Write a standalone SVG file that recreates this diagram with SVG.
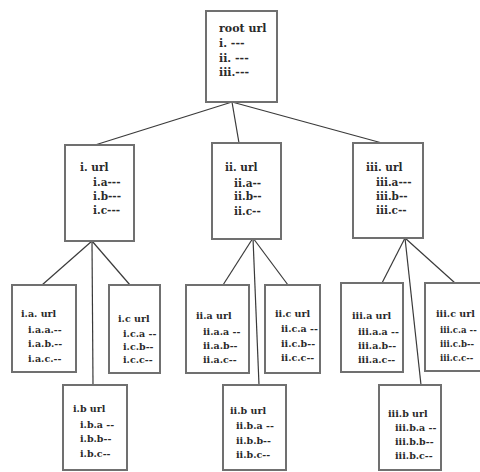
<svg xmlns="http://www.w3.org/2000/svg" width="480" height="472" viewBox="0 0 480 472">
<style>
  .box { fill: #ffffff; stroke: #707070; stroke-width: 2; }
  .t { font-family: "DejaVu Serif", "Liberation Serif", serif; font-weight: bold; fill: #2a2a2a; }
  .r { font-size: 11px; }
  .l2 { font-size: 10.5px; }
  .l3 { font-size: 9.5px; }
  .l3s { font-size: 8.6px; }
  .edge { stroke: #3a3a3a; stroke-width: 1.2; fill: none; }
</style>
<rect width="480" height="472" fill="#ffffff"/>
<g id="connectors">
  <line class="edge" x1="232" y1="102" x2="95" y2="145"/>
  <line class="edge" x1="232" y1="102" x2="239" y2="143"/>
  <line class="edge" x1="232" y1="102" x2="382" y2="143"/>
  <line class="edge" x1="92" y1="241" x2="42" y2="285"/>
  <line class="edge" x1="92" y1="241" x2="93" y2="385"/>
  <line class="edge" x1="92" y1="241" x2="130" y2="285"/>
  <line class="edge" x1="253" y1="238" x2="223" y2="285"/>
  <line class="edge" x1="253" y1="238" x2="259" y2="385"/>
  <line class="edge" x1="253" y1="238" x2="288" y2="285"/>
  <line class="edge" x1="405" y1="238" x2="382" y2="283"/>
  <line class="edge" x1="405" y1="238" x2="421" y2="385"/>
  <line class="edge" x1="405" y1="238" x2="455" y2="283"/>
</g>
<g id="root">
  <rect class="box" x="206" y="11" width="71" height="91"/>
  <text class="t r" x="219" y="32">root url</text>
  <text class="t r" x="219" y="47">i. ---</text>
  <text class="t r" x="219" y="62">ii. ---</text>
  <text class="t r" x="219" y="76">iii.---</text>
</g>
<g id="node-i">
  <rect class="box" x="65" y="145" width="69" height="96"/>
  <text class="t l2" x="80" y="171">i. url</text>
  <text class="t l2" x="93" y="186">i.a---</text>
  <text class="t l2" x="93" y="200">i.b---</text>
  <text class="t l2" x="93" y="214">i.c---</text>
</g>
<g id="node-ii">
  <rect class="box" x="212" y="143" width="69" height="96"/>
  <text class="t l2" x="225" y="171">ii. url</text>
  <text class="t l2" x="234" y="187">ii.a--</text>
  <text class="t l2" x="234" y="200">ii.b--</text>
  <text class="t l2" x="234" y="215">ii.c--</text>
</g>
<g id="node-iii">
  <rect class="box" x="353" y="143" width="70" height="95"/>
  <text class="t l2" x="366" y="171">iii. url</text>
  <text class="t l2" x="376" y="186">iii.a---</text>
  <text class="t l2" x="376" y="200">iii.b--</text>
  <text class="t l2" x="376" y="214">iii.c--</text>
</g>
<g id="node-ia">
  <rect class="box" x="12" y="285" width="64" height="87"/>
  <text class="t l3" x="21" y="317">i.a. url</text>
  <text class="t l3" x="28" y="333">i.a.a.--</text>
  <text class="t l3" x="28" y="347">i.a.b.--</text>
  <text class="t l3" x="28" y="362">i.a.c.--</text>
</g>
<g id="node-ic">
  <rect class="box" x="109" y="285" width="51" height="88"/>
  <text class="t l3" x="118" y="322">i.c url</text>
  <text class="t l3" x="123" y="337">i.c.a --</text>
  <text class="t l3" x="123" y="350">i.c.b--</text>
  <text class="t l3" x="123" y="363">i.c.c--</text>
</g>
<g id="node-ib">
  <rect class="box" x="63" y="385" width="64" height="85"/>
  <text class="t l3" x="73" y="412">i.b url</text>
  <text class="t l3" x="80" y="428">i.b.a --</text>
  <text class="t l3" x="80" y="442">i.b.b--</text>
  <text class="t l3" x="80" y="457">i.b.c--</text>
</g>
<g id="node-iia">
  <rect class="box" x="186" y="285" width="63" height="88"/>
  <text class="t l3" x="196" y="319">ii.a url</text>
  <text class="t l3" x="203" y="335">ii.a.a --</text>
  <text class="t l3" x="203" y="349">ii.a.b--</text>
  <text class="t l3" x="203" y="363">ii.a.c--</text>
</g>
<g id="node-iic">
  <rect class="box" x="265" y="285" width="55" height="88"/>
  <text class="t l3" x="275" y="317">ii.c url</text>
  <text class="t l3" x="281" y="332">ii.c.a --</text>
  <text class="t l3" x="281" y="347">ii.c.b--</text>
  <text class="t l3" x="281" y="361">ii.c.c--</text>
</g>
<g id="node-iib">
  <rect class="box" x="223" y="385" width="63" height="85"/>
  <text class="t l3" x="230" y="414">ii.b url</text>
  <text class="t l3" x="236" y="429">ii.b.a --</text>
  <text class="t l3" x="236" y="444">ii.b.b--</text>
  <text class="t l3" x="236" y="458">ii.b.c--</text>
</g>
<g id="node-iiia">
  <rect class="box" x="341" y="283" width="62" height="89"/>
  <text class="t l3" x="352" y="319">iii.a url</text>
  <text class="t l3" x="358" y="335">iii.a.a --</text>
  <text class="t l3" x="358" y="349">iii.a.b--</text>
  <text class="t l3" x="358" y="363">iii.a.c--</text>
</g>
<g id="node-iiic">
  <rect class="box" x="425" y="283" width="60" height="88"/>
  <text class="t l3" x="436" y="317">iii.c url</text>
  <text class="t l3s" x="440" y="333">iii.c.a --</text>
  <text class="t l3s" x="440" y="347">iii.c.b--</text>
  <text class="t l3s" x="440" y="361">iii.c.c--</text>
</g>
<g id="node-iiib">
  <rect class="box" x="379" y="385" width="62" height="85"/>
  <text class="t l3" x="388" y="417">iii.b url</text>
  <text class="t l3" x="395" y="431">iii.b.a --</text>
  <text class="t l3" x="395" y="445">iii.b.b--</text>
  <text class="t l3" x="395" y="459">iii.b.c--</text>
</g>
</svg>
